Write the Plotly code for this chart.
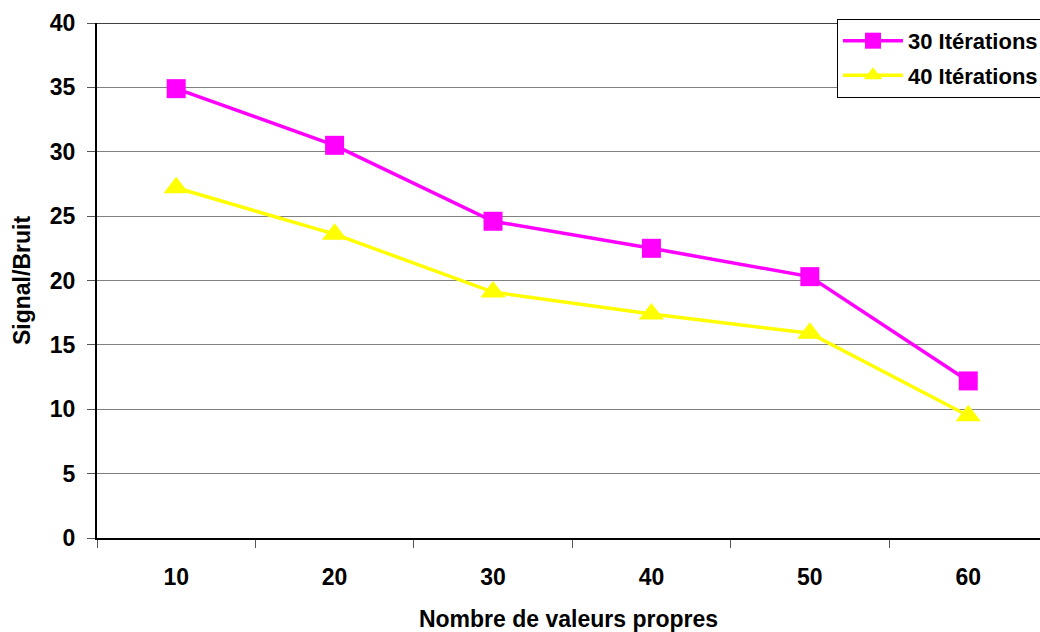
import plotly.graph_objects as go

# valeurs
valeurs_propres = ["10", "20", "30", "40", "50", "60"]
snr_30_iter = [34.9, 30.5, 24.6, 22.5, 20.3, 12.2]
snr_40_iter = [27.2, 23.6, 19.1, 17.4, 15.9, 9.5]

police = dict(family="Liberation Sans, Arial, sans-serif", size=23, color="black", weight="bold")
police_leg = dict(police, size=22)

fig = go.Figure()
fig.add_trace(go.Scatter(x=valeurs_propres, y=snr_30_iter, name="30 Itérations",
                         mode="lines+markers", legendgroup="a",
                         line=dict(color="#FF00FF", width=3.5),
                         marker=dict(symbol="square", size=19, color="#FF00FF")))
fig.add_trace(go.Scatter(x=valeurs_propres, y=snr_40_iter, name="40 Itérations",
                         mode="lines+markers", legendgroup="b",
                         line=dict(color="#FFFF00", width=3.5),
                         marker=dict(symbol="triangle-up", size=22, color="#FFFF00")))

# bordure du haut de la zone de tracé
fig.add_shape(type="line", xref="paper", yref="y", x0=0, x1=1, y0=40, y1=40,
              line=dict(color="black", width=1.5))

fig.update_layout(
    width=1040, height=632,
    margin=dict(l=97, r=0, t=23, b=94, autoexpand=False),
    paper_bgcolor="white", plot_bgcolor="white",
    font=police,
    showlegend=True,
    legend=dict(x=0.7847, y=1.008, xanchor="left", yanchor="top",
                bgcolor="white", bordercolor="black", borderwidth=1,
                font=police_leg, itemwidth=60, tracegroupgap=3),
    xaxis=dict(type="category", range=[-0.5, 5.453],
               showgrid=False, showline=True, linecolor="black", linewidth=2,
               ticks="outside", tickson="boundaries", ticklen=8, tickcolor="#555555",
               tickfont=police, ticklabelstandoff=17,
               title=dict(text="Nombre de valeurs propres", font=police, standoff=25)),
    yaxis=dict(range=[0, 40], dtick=5, showgrid=True, gridcolor="#808080", gridwidth=1,
               zeroline=False, showline=True, linecolor="black", linewidth=2,
               ticks="outside", ticklen=8, tickcolor="#555555",
               tickfont=police, ticklabelstandoff=7,
               title=dict(text="Signal/Bruit", font=police, standoff=13)),
)

# pas de marge autour de la figure dans la page
fig.write_html("out.html", config={"displayModeBar": False},
               post_script="document.body.style.margin='0';document.body.style.overflow='hidden';")
